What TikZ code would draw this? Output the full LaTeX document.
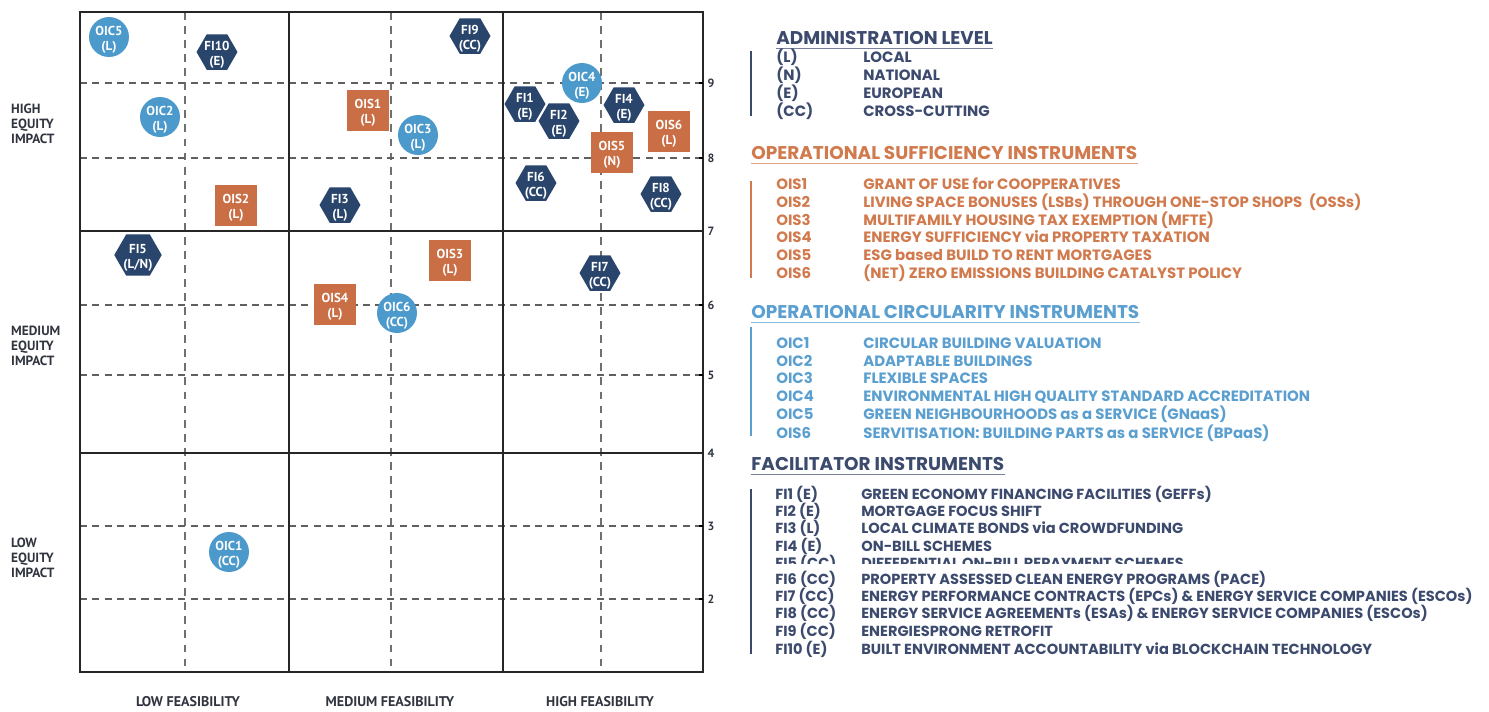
\documentclass[tikz,border=0pt]{standalone}
\usepackage{fontspec}
\setmainfont{Poppins}
\newfontfamily\ptsans{PT Sans}
\usetikzlibrary{shapes.geometric}

\definecolor{navy}{HTML}{2A456C}
\definecolor{rust}{HTML}{C96E45}
\definecolor{sky}{HTML}{4B9ACB}
\definecolor{navytxt}{HTML}{3C4A6E}
\definecolor{rusttxt}{HTML}{D07A4E}
\definecolor{skytxt}{HTML}{5A9FCF}
\definecolor{labtxt}{HTML}{30343F}
\definecolor{dashgray}{HTML}{606060}

% two-line marker text that does not grow the shape
\newcommand{\mk}[2]{\smash{\raisebox{-3.4pt}{\begin{tabular}{@{}c@{}}#1\\#2\end{tabular}}}}

\tikzset{
  mark text/.style={text=white, inner sep=0pt, font=\ptsans\bfseries\fontsize{7.4}{8.3}\selectfont},
  hexa/.style={mark text, regular polygon, regular polygon sides=6, fill=navy, minimum size=0.82cm},
  circ/.style={mark text, circle, fill=sky, minimum size=0.8cm},
  sq/.style={mark text, rectangle, fill=rust, minimum width=0.84cm, minimum height=0.82cm},
  frame/.style={line width=1.4pt, black!85},
  divline/.style={line width=0.9pt, black!85},
  dashline/.style={line width=0.9pt, dashgray, dash pattern=on 4pt off 3pt},
  vdashline/.style={line width=0.7pt, dashgray!90, dash pattern=on 4.5pt off 3.5pt},
  rowlab/.style={anchor=west, align=left, text=labtxt, font=\ptsans\bfseries\fontsize{7.6}{8.5}\selectfont},
  collab/.style={text=labtxt, inner sep=1pt, font=\ptsans\bfseries\fontsize{8}{9}\selectfont},
  ynum/.style={text=labtxt, font=\ptsans\bfseries\fontsize{6.8}{8}\selectfont},
  head/.style={anchor=west, inner sep=0pt, font=\bfseries\fontsize{10.5}{11}\selectfont},
  entry/.style={anchor=west, inner sep=0pt, font=\bfseries\fontsize{8.5}{9}\selectfont},
  fientry/.style={entry, text=navytxt, font=\bfseries\fontsize{8.3}{9}\selectfont},
}

\begin{document}
\begin{tikzpicture}[x=0.02cm, y=-0.02cm]
  \useasboundingbox (0,0) rectangle (1489,711);

  % grid
  \draw [vdashline] (185,12) -- (185,672);
  \draw [vdashline] (391,12) -- (391,672);
  \draw [vdashline] (601,12) -- (601,672);
  \draw [dashline] (80,83) -- (703,83);
  \draw [dashline] (80,158) -- (703,158);
  \draw [dashline] (80,305) -- (703,305);
  \draw [dashline] (80,375) -- (703,375);
  \draw [dashline] (80,526) -- (703,526);
  \draw [dashline] (80,599) -- (703,599);
  \draw [divline] (289,12) -- (289,672);
  \draw [divline] (503,12) -- (503,672);
  \draw [divline] (80,231) -- (703,231);
  \draw [divline] (80,453) -- (703,453);
  \draw [frame] (80,12) rectangle (703,672);

  % right scale
  \draw [line width=1.2pt] (699,83) -- (703,83);
  \draw [line width=1.2pt] (699,158) -- (703,158);
  \draw [line width=1.2pt] (699,305) -- (703,305);
  \draw [line width=1.2pt] (699,375) -- (703,375);
  \draw [line width=1.2pt] (699,526) -- (703,526);
  \draw [line width=1.2pt] (699,599) -- (703,599);
  \node (y9) at (711,83) [ynum] {9};
  \node (y8) at (711,158) [ynum] {8};
  \node (y7) at (711,231) [ynum] {7};
  \node (y6) at (711,305) [ynum] {6};
  \node (y5) at (711,375) [ynum] {5};
  \node (y4) at (711,453) [ynum] {4};
  \node (y3) at (711,526) [ynum] {3};
  \node (y2) at (711,599) [ynum] {2};

  % axis labels
  \node (rowhigh) at (5,124) [rowlab] {HIGH\\EQUITY\\IMPACT};
  \node (rowmed) at (5,346) [rowlab] {MEDIUM\\EQUITY\\IMPACT};
  \node (rowlow) at (5,558) [rowlab] {LOW\\EQUITY\\IMPACT};
  \node (collow) at (188,702) [collab] {LOW FEASIBILITY};
  \node (colmed) at (390,702) [collab] {MEDIUM FEASIBILITY};
  \node (colhigh) at (600,702) [collab] {HIGH FEASIBILITY};

  % instruments
  \node (oic5) at (109,37) [circ] {\mk{OIC5}{(L)}};
  \node (fi10) at (217,52) [hexa] {\mk{FI10}{(E)}};
  \node (oic2) at (160,117) [circ] {\mk{OIC2}{(L)}};
  \node (ois2) at (236,205) [sq] {\mk{OIS2}{(L)}};
  \node (fi3) at (340,205) [hexa] {\mk{FI3}{(L)}};
  \node (fi9) at (470,36) [hexa] {\mk{FI9}{(CC)}};
  \node (ois1) at (368,110) [sq] {\mk{OIS1}{(L)}};
  \node (oic3) at (418,135) [circ] {\mk{OIC3}{(L)}};
  \node (oic4) at (582,83) [circ] {\mk{OIC4}{(E)}};
  \node (fi1) at (525,104) [hexa] {\mk{FI1}{(E)}};
  \node (fi2) at (559,121) [hexa] {\mk{FI2}{(E)}};
  \node (fi4) at (624,105) [hexa] {\mk{FI4}{(E)}};
  \node (ois5) at (612,152) [sq] {\mk{OIS5}{(N)}};
  \node (ois6) at (669,131) [sq] {\mk{OIS6}{(L)}};
  \node (fi6) at (536,183) [hexa] {\mk{FI6}{(CC)}};
  \node (fi8) at (661,194) [hexa] {\mk{FI8}{(CC)}};
  \node (fi5) at (138,255) [hexa] {\mk{FI5}{(L/N)}};
  \node (ois3) at (450,260) [sq] {\mk{OIS3}{(L)}};
  \node (fi7) at (600,273) [hexa] {\mk{FI7}{(CC)}};
  \node (ois4) at (335,304) [sq] {\mk{OIS4}{(L)}};
  \node (oic6) at (397,313) [circ] {\mk{OIC6}{(CC)}};
  \node (oic1) at (229,552) [circ] {\mk{OIC1}{(CC)}};

  % legend: administration level
  \node (hadm) at (776,38) [head, text=navytxt] {ADMINISTRATION LEVEL};
  \draw [navytxt!70, line width=0.6pt] ([yshift=-2pt]hadm.south west) -- ([yshift=-2pt]hadm.south east);
  \draw [navytxt, line width=1.5pt] (751,51) -- (751,116);
  \node (admL) at (776,57) [entry, text=navytxt] {\makebox[1.74cm][l]{(L)}LOCAL};
  \node (admN) at (776,75) [entry, text=navytxt] {\makebox[1.74cm][l]{(N)}NATIONAL};
  \node (admE) at (776,93) [entry, text=navytxt] {\makebox[1.74cm][l]{(E)}EUROPEAN};
  \node (admCC) at (776,111) [entry, text=navytxt] {\makebox[1.74cm][l]{(CC)}CROSS-CUTTING};

  % legend: sufficiency
  \node (hois) at (751,153) [head, text=rusttxt] {OPERATIONAL SUFFICIENCY INSTRUMENTS};
  \draw [rusttxt!70, line width=0.6pt] ([yshift=-2pt]hois.south west) -- ([yshift=-2pt]hois.south east);
  \draw [rusttxt, line width=1.5pt] (751,181) -- (751,278);
  \node (lois1) at (776,184) [entry, text=rusttxt] {\makebox[1.74cm][l]{OIS1}GRANT OF USE for COOPPERATIVES};
  \node (lois2) at (776,202) [entry, text=rusttxt] {\makebox[1.74cm][l]{OIS2}LIVING SPACE BONUSES (LSBs) THROUGH ONE-STOP SHOPS\ \ (OSSs)};
  \node (lois3) at (776,220) [entry, text=rusttxt] {\makebox[1.74cm][l]{OIS3}MULTIFAMILY HOUSING TAX EXEMPTION (MFTE)};
  \node (lois4) at (776,237) [entry, text=rusttxt] {\makebox[1.74cm][l]{OIS4}ENERGY SUFFICIENCY via PROPERTY TAXATION};
  \node (lois5) at (776,255) [entry, text=rusttxt] {\makebox[1.74cm][l]{OIS5}ESG based BUILD TO RENT MORTGAGES};
  \node (lois6) at (776,273) [entry, text=rusttxt] {\makebox[1.74cm][l]{OIS6}(NET) ZERO EMISSIONS BUILDING CATALYST POLICY};

  % legend: circularity
  \node (hoic) at (751,312) [head, text=skytxt] {OPERATIONAL CIRCULARITY INSTRUMENTS};
  \draw [skytxt!70, line width=0.6pt] ([yshift=-2pt]hoic.south west) -- ([yshift=-2pt]hoic.south east);
  \draw [skytxt, line width=1.5pt] (751,327) -- (751,436);
  \node (loic1) at (776,343) [entry, text=skytxt] {\makebox[1.74cm][l]{OIC1}CIRCULAR BUILDING VALUATION};
  \node (loic2) at (776,361) [entry, text=skytxt] {\makebox[1.74cm][l]{OIC2}ADAPTABLE BUILDINGS};
  \node (loic3) at (776,378) [entry, text=skytxt] {\makebox[1.74cm][l]{OIC3}FLEXIBLE SPACES};
  \node (loic4) at (776,397) [entry, text=skytxt] {\makebox[1.74cm][l]{OIC4}ENVIRONMENTAL HIGH QUALITY STANDARD ACCREDITATION};
  \node (loic5) at (776,414) [entry, text=skytxt] {\makebox[1.74cm][l]{OIC5}GREEN NEIGHBOURHOODS as a SERVICE (GNaaS)};
  \node (loic6) at (776,433) [entry, text=skytxt] {\makebox[1.74cm][l]{OIS6}SERVITISATION: BUILDING PARTS as a SERVICE (BPaaS)};

  % legend: facilitators
  \node (hfi) at (751,464) [head, text=navytxt] {FACILITATOR INSTRUMENTS};
  \draw [navytxt!70, line width=0.6pt] ([yshift=-2pt]hfi.south west) -- ([yshift=-2pt]hfi.south east);
  \draw [navytxt, line width=1.5pt] (751,489) -- (751,654);
  \node (lfi1) at (775,494) [fientry] {\makebox[1.72cm][l]{FI1 (E)}GREEN ECONOMY FINANCING FACILITIES (GEFFs)};
  \node (lfi2) at (775,511) [fientry] {\makebox[1.72cm][l]{FI2 (E)}MORTGAGE FOCUS SHIFT};
  \node (lfi3) at (775,528) [fientry] {\makebox[1.72cm][l]{FI3 (L)}LOCAL CLIMATE BONDS via CROWDFUNDING};
  \node (lfi4) at (775,546) [fientry] {\makebox[1.72cm][l]{FI4 (E)}ON-BILL SCHEMES};
  \begin{scope}
    \clip (760,550) rectangle (1480,563);
    \node (lfi5) at (775,563) [fientry] {\makebox[1.72cm][l]{FI5 (CC)}DIFFERENTIAL ON-BILL REPAYMENT SCHEMES};
  \end{scope}
  \node (lfi6) at (775,579) [fientry] {\makebox[1.72cm][l]{FI6 (CC)}PROPERTY ASSESSED CLEAN ENERGY PROGRAMS (PACE)};
  \node (lfi7) at (775,596) [fientry] {\makebox[1.72cm][l]{FI7 (CC)}ENERGY PERFORMANCE CONTRACTS (EPCs) \& ENERGY SERVICE COMPANIES (ESCOs)};
  \node (lfi8) at (775,613) [fientry] {\makebox[1.72cm][l]{FI8 (CC)}ENERGY SERVICE AGREEMENTs (ESAs) \& ENERGY SERVICE COMPANIES (ESCOs)};
  \node (lfi9) at (775,631) [fientry] {\makebox[1.72cm][l]{FI9 (CC)}ENERGIESPRONG RETROFIT};
  \node (lfi10) at (775,649) [fientry] {\makebox[1.72cm][l]{FI10 (E)}BUILT ENVIRONMENT ACCOUNTABILITY via BLOCKCHAIN TECHNOLOGY};
\end{tikzpicture}
\end{document}
